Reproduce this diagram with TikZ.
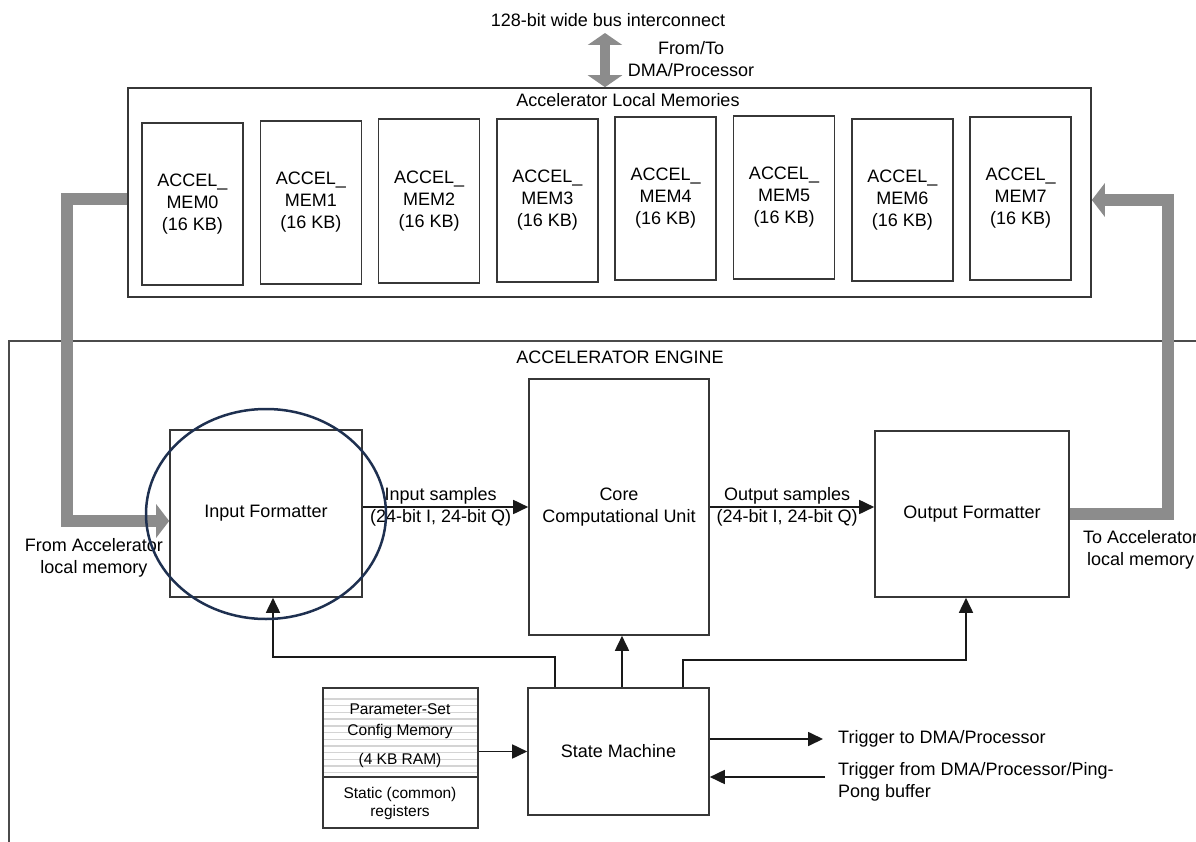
\documentclass[tikz,border=0pt]{standalone}
\usepackage{fontspec}
\setmainfont{Liberation Sans}
\usetikzlibrary{arrows.meta}
\definecolor{gbar}{RGB}{140,140,140}
\definecolor{ring}{RGB}{30,48,80}
\definecolor{edge}{RGB}{55,55,55}
\definecolor{stripe}{RGB}{212,212,212}
\begin{document}
\begin{tikzpicture}[x=1pt,y=-1pt,
  txt/.style={font=\fontsize{18}{22}\selectfont, align=center, inner sep=0pt},
  box/.style={draw=edge, line width=1.6pt, font=\fontsize{18}{22}\selectfont, align=center, inner sep=0pt},
  arr/.style={draw=black!90, line width=1.7pt, -{Triangle[length=15pt,width=14pt]}},
  fat/.style={draw=gbar, line width=12pt, -{Triangle[length=13pt,width=33pt]}},
]
\useasboundingbox (0,0) rectangle (1196,842);
\clip (0,0) rectangle (1196,842);

% top bus
\node[txt] (bus) at (608,20) {128-bit wide bus interconnect};
\node[txt] (fromto) at (691,59) {From/To\\DMA/Processor};

% local memories
\node[box, minimum width=963pt, minimum height=209pt] (lm) at (609.5,192.5) {};
\node[txt] (lmt) at (628,100) {Accelerator Local Memories};
\node[box, minimum width=101pt, minimum height=162pt] (m0) at (192.5,204) {ACCEL\_\\MEM0\\(16 KB)};
\node[box, minimum width=101pt, minimum height=163pt] (m1) at (310.8,202.5) {ACCEL\_\\MEM1\\(16 KB)};
\node[box, minimum width=101pt, minimum height=164pt] (m2) at (429.1,201) {ACCEL\_\\MEM2\\(16 KB)};
\node[box, minimum width=101pt, minimum height=163pt] (m3) at (547.4,200.5) {ACCEL\_\\MEM3\\(16 KB)};
\node[box, minimum width=101pt, minimum height=163pt] (m4) at (665.7,198.5) {ACCEL\_\\MEM4\\(16 KB)};
\node[box, minimum width=101pt, minimum height=163pt] (m5) at (784,197.5) {ACCEL\_\\MEM5\\(16 KB)};
\node[box, minimum width=101pt, minimum height=162pt] (m6) at (902.3,200) {ACCEL\_\\MEM6\\(16 KB)};
\node[box, minimum width=101pt, minimum height=163pt] (m7) at (1020.6,198.5) {ACCEL\_\\MEM7\\(16 KB)};

\coordinate (bustop) at (605,33);
\draw[draw=gbar, line width=10pt, {Triangle[length=12pt,width=34pt]}-{Triangle[length=12pt,width=34pt]}] (bustop) -- (lm.north -| bustop);

% engine frame
\draw[draw=edge!90, line width=1.6pt] (1210,341) -- (9,341) -- (9,860);
\node[txt] (eng) at (620,357) {ACCELERATOR ENGINE};

% blocks
\node[box, minimum width=192pt, minimum height=167pt] (inf) at (266,513.5) {Input Formatter};
\node[box, minimum width=180pt, minimum height=256pt] (core) at (619,507) {Core\\Computational Unit};
\node[box, minimum width=194pt, minimum height=166pt] (outf) at (972,514) {Output Formatter};
\node[box, minimum width=181pt, minimum height=127pt] (sm) at (618.5,751.5) {State Machine};

% parameter box
\foreach \k in {0,...,11} {\draw[stripe, line width=1.4pt] (324,699+6.7*\k) -- (477,699+6.7*\k);}
\node[box, minimum width=155pt, minimum height=140pt] (param) at (400.5,758) {};
\draw[draw=edge, line width=1.6pt] (param.west |- 0,777) -- (param.east |- 0,777);
\node[txt, font=\fontsize{15.5}{21}\selectfont] (pst) at (400,721.5) {Parameter-Set\\Config Memory};
\node[txt, font=\fontsize{15.5}{21}\selectfont] (ram) at (400,760) {(4 KB RAM)};
\node[txt, font=\fontsize{15.5}{18}\selectfont] (stat) at (400,803) {Static (common)\\registers};

% data path arrows
\draw[arr] (inf.east |- core.west) -- node[txt, pos=0.47] {Input samples\\(24-bit I, 24-bit Q)} (core.west);
\draw[arr] (core.east) -- node[txt, pos=0.47] {Output samples\\(24-bit I, 24-bit Q)} (outf.west |- core.east);

% state machine control
\draw[arr] (sm.north -| 555,0) -- (555,657) -| (inf.south -| 273,0);
\draw[arr] (sm.north -| 622,0) -- (core.south -| 622,0);
\draw[arr] (sm.north -| 683,0) -- (683,660) -| (outf.south -| 966,0);
\draw[arr] (param.east |- sm.west) -- (sm.west);

\coordinate (t1) at (823,739);
\coordinate (t2) at (825,777);
\draw[arr] (sm.east |- t1) -- (t1);
\draw[arr] (t2) -- (sm.east |- t2);
\node[txt, anchor=west] (tt1) at (838,739) {Trigger to DMA/Processor};
\node[txt, anchor=west, align=left] (tt2) at (838,781.5) {Trigger from DMA/Processor/Ping-\\Pong buffer};

% gray memory paths
\draw[fat] (lm.west |- 0,199) -| (67,521) -- (inf.west |- 0,521);
\draw[fat] (outf.east) -| (1168,200) -- (lm.east |- 0,200);
\node[txt] (fromacc) at (94,558) {From Accelerator\\local memory};
\node[txt, anchor=west, align=center] (toacc) at (1083,549.5) {To Accelerator\\local memory};

% highlight ring
\draw[ring, line width=2.5pt] (266,514) ellipse [x radius=120, y radius=105];
\end{tikzpicture}
\end{document}
